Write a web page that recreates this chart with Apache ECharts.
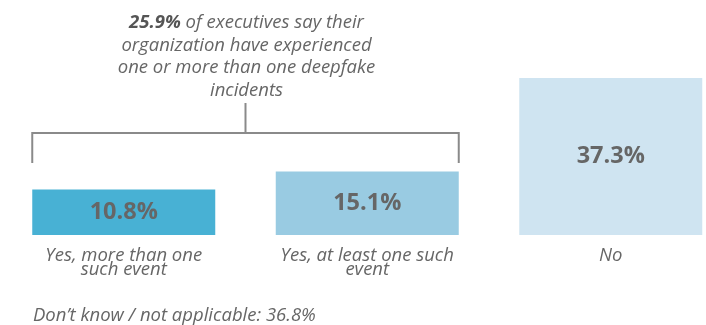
<!DOCTYPE html>
<html>
<head>
<meta charset="utf-8">
<script src="https://cdn.jsdelivr.net/npm/echarts@6/dist/echarts.min.js"></script>
<style>
html,body{margin:0;padding:0;background:#fff;}
#c{width:706px;height:325px;}
</style>
</head>
<body>
<div id="c"></div>
<script>
var categories = ['Yes, more than one\nsuch event', 'Yes, at least one such\nevent', 'No'];
var values = [10.8, 15.1, 37.3];
var barColors = ['#48b1d4', '#99cbe2', '#cfe4f1'];
var annotationTotal = '25.9%';
var annotationRest = ['of executives say their', 'organization have experienced', 'one or more than one deepfake', 'incidents'];
var footnote = 'Don\u2019t know / not applicable: 36.8%';

var chart = echarts.init(document.getElementById('c'), null, {renderer: 'canvas'});
var FONT = '"Open Sans", sans-serif';
var option = {
  animation: false,
  grid: {left: 2, top: 24.5, width: 730.5, height: 210.5, containLabel: false, outerBoundsMode: 'none'},
  xAxis: {
    type: 'category',
    data: categories,
    axisLine: {show: false},
    axisTick: {show: false},
    axisLabel: {
      interval: 0,
      margin: 14,
      color: '#666',
      fontFamily: FONT,
      fontStyle: 'italic',
      fontSize: 18.5,
      lineHeight: 14
    }
  },
  yAxis: {type: 'value', min: 0, max: 50, show: false, splitLine: {show: false}},
  series: [{
    type: 'bar',
    barWidth: 183,
    data: values.map(function (v, i) { return {value: v, itemStyle: {color: barColors[i]}}; }),
    label: {
      show: true,
      position: 'inside',
      formatter: function (p) { return p.value.toFixed(1) + '%'; },
      color: '#666',
      fontFamily: FONT,
      fontWeight: 'bold',
      fontSize: 23.5
    }
  }]
};
chart.setOption(option);

function drawExtras() {
  var x0 = chart.convertToPixel({xAxisIndex: 0}, categories[0]);
  var x1 = chart.convertToPixel({xAxisIndex: 0}, categories[1]);
  var half = 183 / 2;
  var left = x0 - half, right = x1 + half, mid = (left + right) / 2;
  var yTop = 133, yLeg = 163, yStem = 103;
  var lineStyle = {stroke: '#8a8a8a', lineWidth: 2, fill: null};
  var textLines = [
    '{b|' + annotationTotal + '} ' + annotationRest[0],
    annotationRest[1],
    annotationRest[2],
    annotationRest[3]
  ];
  chart.setOption({
    graphic: [
      {type: 'polyline', shape: {points: [[left, yLeg], [left, yTop], [right, yTop], [right, yLeg]]}, style: lineStyle, silent: true},
      {type: 'line', shape: {x1: mid, y1: yStem, x2: mid, y2: yTop}, style: lineStyle, silent: true},
      {
        type: 'text', x: mid + 1, y: 11.5,
        style: {
          text: textLines.join('\n'),
          align: 'center', verticalAlign: 'top',
          fill: '#666', font: 'italic 18.5px ' + FONT,
          lineHeight: 22.5,
          rich: {b: {fontWeight: 'bold', fontStyle: 'italic', fontSize: 18.5, fill: '#555', fontFamily: FONT, lineHeight: 22.5}}
        }
      },
      {
        type: 'text', x: 33, y: 316,
        style: {text: footnote, fill: '#666', font: 'italic 18.5px ' + FONT, align: 'left', verticalAlign: 'middle'}
      }
    ]
  });
}
drawExtras();
</script>
</body>
</html>
